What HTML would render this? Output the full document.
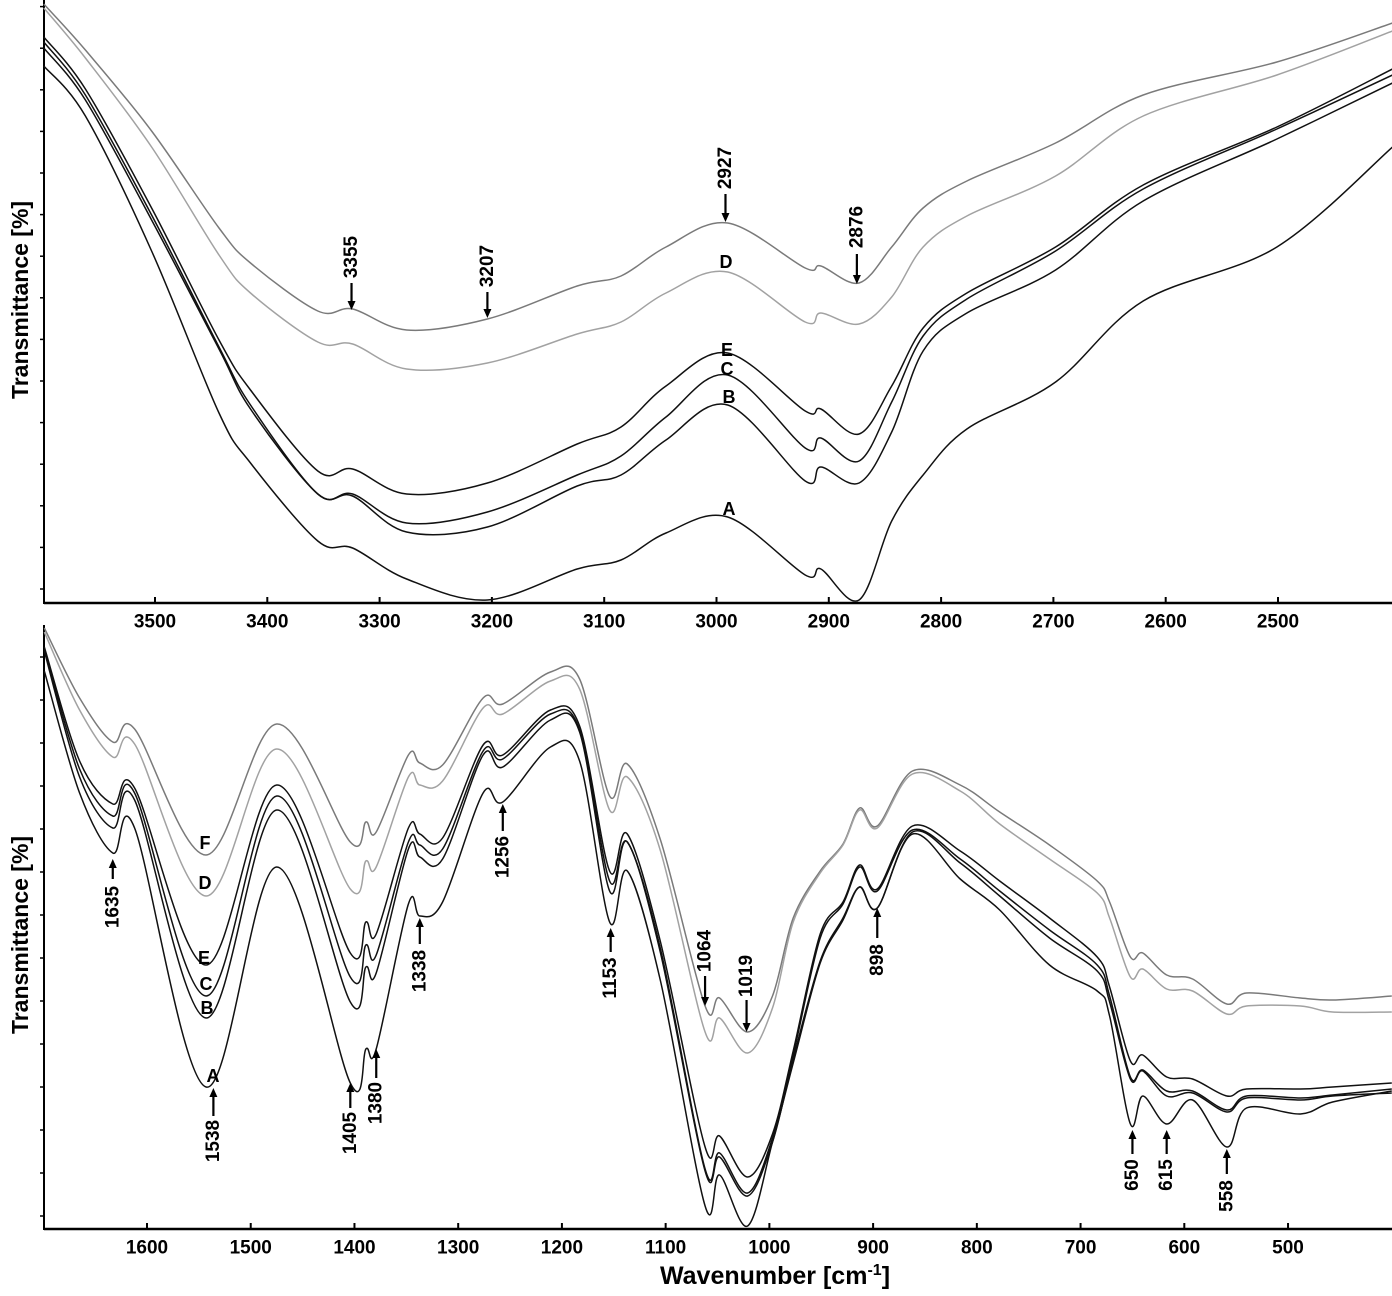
<!DOCTYPE html>
<html><head><meta charset="utf-8"><title>FTIR spectra</title>
<style>
html,body{margin:0;padding:0;background:#fff;}
svg{display:block;font-family:"Liberation Sans",Arial,sans-serif;}
</style></head>
<body>
<svg id="chart" width="1392" height="1296" viewBox="0 0 1392 1296" xmlns="http://www.w3.org/2000/svg">
<g id="top"></g>
<g id="bot"></g>
<text x="0" y="0" transform="translate(20,300) rotate(-90)" text-anchor="middle" dominant-baseline="central" font-size="23" font-weight="bold">Transmittance [%]</text>
<text x="0" y="0" transform="translate(20,935) rotate(-90)" text-anchor="middle" dominant-baseline="central" font-size="23" font-weight="bold">Transmittance [%]</text>
<text x="775" y="1284" text-anchor="middle" font-size="25" font-weight="bold">Wavenumber [cm<tspan dy="-9" font-size="16">-1</tspan><tspan dy="9">]</tspan></text>
</svg>
<script>
// ---------- TOP PANEL DATA (wavenumber, transmittance a.u.) ----------
const topWave = [3599,3562,3503,3443,3415,3355,3324,3276,3204,3124,3085,3045,2990,2921,2907,2873,2844,2816,2777,2698,2620,2501,2398];
const topF = [599,553,472,375,340,292,294,273,284,317,327,356,380,335,337,320,356,395,422,460,508,541,580];
const topD = [595,545,456,348,310,261,259,234,240,269,281,310,331,281,290,279,306,356,387,427,487,528,572];
const topE = [566,514,395,263,213,132,134,109,120,159,176,217,250,192,194,169,217,275,310,356,418,476,534];
const topC = [561,508,388,256,198,109,109,80,91,128,147,186,228,155,165,142,201,267,304,352,414,474,528];
const topB = [555,503,383,254,194,109,107,71,76,117,128,163,198,122,136,120,171,252,290,333,402,464,520];
const topA = [537,487,352,190,140,62,55,24,3,34,43,70,86,28,34,3,82,128,174,221,302,356,456];
const topTicks = [3500,3400,3300,3200,3100,3000,2900,2800,2700,2600,2500];

// ---------- BOTTOM PANEL DATA ----------
const botWave = [1699,1665,1633,1612,1543,1475,1404,1389,1379,1348,1337,1315,1276,1257,1211,1183,1154,1137,1105,1062,1048,1021,997,977,951,929,913,896,862,816,778,730,684,672,652,640,617,592,559,540,488,457,400];
const botF = [601,531,487,500,374,505,387,407,397,474,466,464,531,525,557,550,433,465,389,223,231,197,233,311,358,385,421,403,458,444,417,384,348,327,272,276,254,250,225,236,231,229,233];
const botD = [597,519,472,485,333,480,340,368,362,452,444,448,521,515,548,540,419,452,378,197,211,176,221,307,356,384,419,401,455,438,405,370,336,311,252,260,240,238,215,223,223,217,217];
const botE = [582,468,425,441,264,444,276,307,295,401,395,391,484,474,519,503,358,395,287,82,93,52,95,178,295,327,364,340,403,378,348,311,272,242,168,174,152,150,133,140,140,142,146];
const botC = [580,460,413,436,233,433,252,284,274,387,384,380,478,470,515,499,348,387,280,60,76,36,91,174,291,325,362,338,399,370,338,299,264,233,152,159,138,138,119,133,131,134,140];
const botB = [578,452,401,429,211,419,227,262,256,380,372,370,474,462,509,497,338,387,276,58,72,33,87,170,268,311,342,321,397,366,333,291,258,227,150,158,133,136,117,131,129,133,136];
const botA = [558,436,376,401,142,362,146,180,180,325,313,327,436,427,482,468,307,358,248,23,54,3,87,166,266,309,342,321,395,350,319,264,238,213,105,133,105,129,82,121,115,127,138];
const botTicks = [1600,1500,1400,1300,1200,1100,1000,900,800,700,600,500];

const NS = "http://www.w3.org/2000/svg";
function mk(tag, attrs, parent){const e=document.createElementNS(NS,tag);for(const k in attrs)e.setAttribute(k,attrs[k]);parent.appendChild(e);return e;}

const panels = {
  top:{g:document.getElementById('top'), x:w=>155+(3500-w)*1.123, y:t=>603-t, y0:603, ytop:0, tick0:14, tickStep:41.6, label:622},
  bot:{g:document.getElementById('bot'), x:w=>147+(1600-w)*1.0373, y:t=>1229-t, y0:1229, ytop:625, tick0:13, tickStep:43, label:1248}
};

function smoothPath(xs, ys){
  let d = "M"+xs[0].toFixed(1)+","+ys[0].toFixed(1);
  for(let i=0;i<xs.length-1;i++){
    const x0=xs[Math.max(i-1,0)], y0=ys[Math.max(i-1,0)];
    const x1=xs[i], y1=ys[i], x2=xs[i+1], y2=ys[i+1];
    const x3=xs[Math.min(i+2,xs.length-1)], y3=ys[Math.min(i+2,ys.length-1)];
    const c1x=x1+(x2-x0)/6, c1y=y1+(y2-y0)/6, c2x=x2-(x3-x1)/6, c2y=y2-(y3-y1)/6;
    d += " C"+c1x.toFixed(1)+","+c1y.toFixed(1)+" "+c2x.toFixed(1)+","+c2y.toFixed(1)+" "+x2.toFixed(1)+","+y2.toFixed(1);
  }
  return d;
}

function drawAxes(p, ticks, name){
  const g=p.g;
  const ax=mk('line',{x1:44,y1:p.y0,x2:1392,y2:p.y0,stroke:'#000','stroke-width':2.5},g);
  
  
  const ay=mk('line',{x1:44,y1:p.ytop,x2:44,y2:p.y0+1,stroke:'#000','stroke-width':2},g);
  
  
  ticks.forEach(v=>{
    const x=p.x(v);
    const t=mk('line',{x1:x,y1:p.y0,x2:x,y2:p.y0-6,stroke:'#000','stroke-width':2},g);
    
    
    const l=mk('text',{x:x,y:p.label,'text-anchor':'middle','dominant-baseline':'central','font-size':19,'font-weight':'bold'},g);
    
    
    l.textContent=v;
  });
  for(let t=p.tick0;t<p.y0-p.ytop-5;t+=p.tickStep){
    const y=p.y(t);
    const yt=mk('line',{x1:40,y1:y,x2:44,y2:y,stroke:'#000','stroke-width':1.5},g);
    
    
  }
}

function drawSeries(p, wave, vals, color, name){
  const xs=wave.map(p.x), ys=vals.map(p.y);
  const path=mk('path',{d:smoothPath(xs,ys),fill:'none',stroke:color,'stroke-width':1.5,'stroke-linejoin':'round'},p.g);
  
  
}

drawAxes(panels.top, topTicks, 'top');
drawAxes(panels.bot, botTicks, 'bottom');

const grayDark='#7a7a7a', grayLight='#a2a2a2', blk='#111';
drawSeries(panels.top, topWave, topF, grayDark, 'top-series-f');
drawSeries(panels.top, topWave, topD, grayLight, 'top-series-d');
drawSeries(panels.top, topWave, topE, blk, 'top-series-e');
drawSeries(panels.top, topWave, topC, blk, 'top-series-c');
drawSeries(panels.top, topWave, topB, blk, 'top-series-b');
drawSeries(panels.top, topWave, topA, blk, 'top-series-a');
drawSeries(panels.bot, botWave, botF, grayDark, 'bottom-series-f');
drawSeries(panels.bot, botWave, botD, grayLight, 'bottom-series-d');
drawSeries(panels.bot, botWave, botE, blk, 'bottom-series-e');
drawSeries(panels.bot, botWave, botC, blk, 'bottom-series-c');
drawSeries(panels.bot, botWave, botB, blk, 'bottom-series-b');
drawSeries(panels.bot, botWave, botA, blk, 'bottom-series-a');

// annotations: [label, wavenumber position, tip y, shaft end y, text center y]
const topNotes = [["3355",3325,310,283,257],["3207",3204,318,292,266],["2927",2992,222,194,168],["2876",2875,284,254,227]];
const botNotes = [["1635",1633,859,879,907],["1538",1536,1088,1116,1141],["1405",1404,1083,1108,1133],["1380",1379,1049,1078,1103],
  ["1338",1337,918,944,971],["1256",1257,804,831,857],["1153",1153,928,952,978],["1064",1062,1006,976,951],["1019",1022,1032,1000,976],
  ["898",896,908,938,960],["650",650,1130,1154,1175],["615",617,1130,1154,1175],["558",559,1149,1174,1196]];

function drawNote(p, n, prefix){
  const x=p.x(n[1]), tip=n[2], end=n[3], tc=n[4];
  const dir = end>tip ? 1 : -1;
  const g=mk('g',{},p.g);
  
  
  mk('line',{x1:x,y1:end,x2:x,y2:tip+dir*7,stroke:'#000','stroke-width':2.2},g);
  mk('polygon',{points:`${x-4},${tip+dir*9} ${x+4},${tip+dir*9} ${x},${tip}`,fill:'#000'},g);
  const t=mk('text',{x:0,y:0,transform:`translate(${x},${tc}) rotate(-90)`,'text-anchor':'middle','dominant-baseline':'central','font-size':19,'font-weight':'bold'},g);
  t.textContent=n[0];
}
topNotes.forEach(n=>drawNote(panels.top,n,'top'));
botNotes.forEach(n=>drawNote(panels.bot,n,'bottom'));

const topLetters=[["D",726,262],["E",727,350],["C",727,369],["B",729,397],["A",729,509]];
const botLetters=[["F",205,843],["D",205,883],["E",204,958],["C",206,984],["B",207,1008],["A",213,1076]];
function drawLetters(arr,prefix){
  arr.forEach(l=>{
    const t=mk('text',{x:l[1],y:l[2],'text-anchor':'middle','dominant-baseline':'central','font-size':18,'font-weight':'bold'},document.getElementById('chart'));
    
    
    t.textContent=l[0];
  });
}
drawLetters(topLetters,'top');
drawLetters(botLetters,'bottom');
</script>
</body></html>
